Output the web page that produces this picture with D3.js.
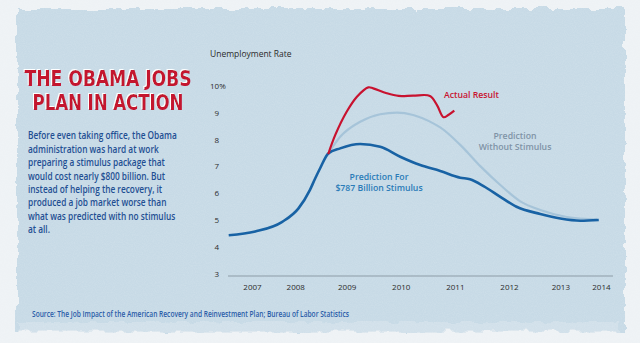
<!DOCTYPE html>
<html>
<head>
<meta charset="utf-8">
<script src="https://cdn.jsdelivr.net/npm/d3@7"></script>
<style>
  html, body { margin: 0; padding: 0; background: #f1f4f6; }
  svg { display: block; }
</style>
</head>
<body>
<div id="chart"></div>
<script>
(function(){

  const width = 640, height = 343

  // unemployment rate, x in decimal years
  const stimulusYears = [2007.32, 2007.81, 2008.31, 2008.61, 2008.82, 2008.92, 2009.01, 2009.16,
                         2009.38, 2009.75, 2010.12, 2010.49, 2010.86, 2011.23, 2011.60, 2011.78,
                         2012.03, 2012.34, 2012.64, 2013.08, 2013.45, 2013.82, 2014.16]
  const stimulusRate  = [4.44, 4.58, 4.94, 5.44, 6.12, 6.56, 6.93, 7.48,
                         7.67, 7.83, 7.73, 7.36, 7.05, 6.83, 6.58, 6.52,
                         6.27, 5.87, 5.50, 5.23, 5.06, 4.98, 5.01]

  const noStimulusYears = [2009.16, 2009.38, 2009.75, 2010.12, 2010.43, 2010.73, 2011.10,
                           2011.23, 2011.60, 2011.97, 2012.34, 2012.71, 2013.08, 2013.57, 2014.13]
  const noStimulusRate  = [7.48, 8.10, 8.66, 8.94, 9.00, 8.91, 8.60,
                           8.45, 7.80, 7.01, 6.31, 5.70, 5.38, 5.12, 5.03]

  const actualYears = [2009.16, 2009.29, 2009.50, 2009.69, 2009.90, 2009.99, 2010.24,
                       2010.46, 2010.73, 2011.04, 2011.17, 2011.29, 2011.38, 2011.49]
  const actualRate  = [7.46, 8.17, 9.03, 9.59, 9.94, 9.90, 9.72,
                       9.62, 9.63, 9.62, 9.28, 8.83, 8.91, 9.07]

  const yearLabels    = ['2007','2008','2009','2010','2011','2012','2013','2014']
  const yearPositions = [2007.75, 2008.55, 2009.5, 2010.5, 2011.5, 2012.5, 2013.45, 2014.2]
  const rateTicks     = [3, 4, 5, 6, 7, 8, 9, 10]

  const titleLines = ['THE OBAMA JOBS', 'PLAN IN ACTION']
  const bodyLines = [
    'Before even taking office, the Obama',
    'administration was hard at work',
    'preparing a stimulus package that',
    'would cost nearly $800 billion. But',
    'instead of helping the recovery, it',
    'produced a job market worse than',
    'what was predicted with no stimulus',
    'at all.'
  ]
  const source = 'Source: The Job Impact of the American Recovery and Reinvestment Plan; Bureau of Labor Statistics'

  const svg = d3.select('#chart').append('svg')
      .attr('width', width).attr('height', height)

  const defs = svg.append('defs')

  // ragged paper edge
  const rough = defs.append('filter').attr('id', 'rough')
      .attr('x', '-5%').attr('y', '-5%').attr('width', '110%').attr('height', '110%')
  rough.append('feTurbulence').attr('type', 'fractalNoise')
      .attr('baseFrequency', 0.08).attr('numOctaves', 3).attr('seed', 3).attr('result', 't')
  rough.append('feDisplacementMap').attr('in', 'SourceGraphic').attr('in2', 't')
      .attr('scale', 9).attr('xChannelSelector', 'R').attr('yChannelSelector', 'G')

  // canvas grain
  const grain = defs.append('filter').attr('id', 'grain')
      .attr('x', 0).attr('y', 0).attr('width', '100%').attr('height', '100%')
  grain.append('feTurbulence').attr('type', 'fractalNoise')
      .attr('baseFrequency', 0.9).attr('numOctaves', 2).attr('seed', 7).attr('result', 'n')
  grain.append('feColorMatrix').attr('in', 'n').attr('type', 'matrix')
      .attr('values', '0 0 0 0 1  0 0 0 0 1  0 0 0 0 1  0.3 0 0 0 -0.1')

  // white edge on the title
  defs.append('filter').attr('id', 'titleEdge')
    .append('feDropShadow').attr('dx', -1).attr('dy', -1).attr('stdDeviation', 0.3)
      .attr('flood-color', '#ffffff').attr('flood-opacity', 1)

  svg.append('rect').attr('width', width).attr('height', height).attr('fill', '#eef2f5')

  svg.append('rect')
      .attr('x', 17).attr('y', 9).attr('width', 608).attr('height', 322)
      .attr('fill', '#c7dae6').attr('filter', 'url(#rough)')

  svg.append('rect')
      .attr('x', 20).attr('y', 322).attr('width', 600).attr('height', 10)
      .attr('fill', '#d6e3ec').attr('opacity', 0.7).attr('filter', 'url(#rough)')

  svg.append('rect').attr('width', width).attr('height', height)
      .attr('filter', 'url(#grain)').attr('opacity', 0.7)

  // squeeze a text block horizontally to a target width (no narrow font installed)
  function squeeze(g, left, target) {
    let w = 0
    g.selectAll('text').each(function() { w = Math.max(w, this.getComputedTextLength()) })
    const k = Math.min(1, target / w)
    g.attr('transform', `translate(${left},0) scale(${k},1)`)
  }

  // scales
  const x = d3.scaleLinear().domain([2009, 2014]).range([319.6, 590.1])
  const y = d3.scaleLinear().domain([3, 10]).range([274, 85.7])

  // title
  const titleLen = [167, 151]
  const title = svg.append('g').attr('font-family', '"DejaVu Sans", sans-serif')
      .attr('font-weight', 'bold').attr('font-size', '21.5px').attr('text-anchor', 'middle')
      .attr('fill', '#c4122f').attr('filter', 'url(#titleEdge)')
  title.selectAll('g').data(titleLines).enter().append('g')
      .each(function(d, i) {
        const g = d3.select(this)
        const t = g.append('text').attr('x', 0).attr('y', 86.5 + i*23.5).text(d)
        const k = titleLen[i] / t.node().getComputedTextLength()
        g.attr('transform', `translate(108,0) scale(${k},1)`)
      })

  // body copy
  const body = svg.append('g')
      .attr('font-family', '"Open Sans", sans-serif').attr('font-weight', 600)
      .attr('font-size', '11px').attr('fill', '#1f4f93')
  body.selectAll('text').data(bodyLines).enter().append('text')
      .attr('x', 0).attr('y', function(d, i) { return 139.5 + i*13.37 })
      .text(function(d) { return d })
  squeeze(body, 28, 149)

  // axes
  svg.append('text').attr('x', 210).attr('y', 57)
      .attr('font-family', '"Open Sans", sans-serif').attr('font-size', '8.5px')
      .attr('fill', '#2b2b2b').text('Unemployment Rate')

  const yAxis = svg.append('g').attr('transform', 'translate(220,0)')
      .call(d3.axisLeft(y).tickValues(rateTicks).tickSize(0).tickPadding(0)
        .tickFormat(function(d) { return d === 10 ? '10%' : d }))
  yAxis.select('.domain').remove()
  yAxis.selectAll('text')
      .attr('font-family', '"Open Sans", sans-serif').attr('font-size', '8px')
      .attr('fill', '#2b2b2b')
  yAxis.selectAll('.tick text')
      .attr('text-anchor', function(d) { return d === 10 ? 'start' : 'end' })
      .attr('x', function(d) { return d === 10 ? -10 : -1 })

  const xAxis = svg.append('g').attr('transform', 'translate(0,276)')
      .call(d3.axisBottom(x).tickValues(yearPositions).tickSize(0).tickPadding(8)
        .tickFormat(function(d, i) { return yearLabels[i] }))
  xAxis.select('.domain').remove()
  xAxis.selectAll('text')
      .attr('font-family', '"Open Sans", sans-serif').attr('font-size', '8px')
      .attr('fill', '#2b2b2b')

  svg.append('line')
      .attr('x1', 228).attr('x2', 613).attr('y1', y(3) + 2).attr('y2', y(3) + 2)
      .attr('stroke', '#8d9ca7').attr('stroke-width', 1)

  // lines
  const lineSmooth = d3.line()
      .x(function(d) { return x(d[0]) }).y(function(d) { return y(d[1]) })
      .curve(d3.curveMonotoneX)
  const lineSharp = d3.line()
      .x(function(d) { return x(d[0]) }).y(function(d) { return y(d[1]) })
      .curve(d3.curveCatmullRom.alpha(0.5))

  svg.append('path').datum(d3.zip(noStimulusYears, noStimulusRate))
      .attr('d', lineSmooth).attr('fill', 'none')
      .attr('stroke', '#a6c4d9').attr('stroke-width', 2.2)

  svg.append('path').datum(d3.zip(stimulusYears, stimulusRate))
      .attr('d', lineSmooth).attr('fill', 'none')
      .attr('stroke', '#1862a4').attr('stroke-width', 2.6)

  svg.append('path').datum(d3.zip(actualYears, actualRate))
      .attr('d', lineSharp).attr('fill', 'none')
      .attr('stroke', '#c8122f').attr('stroke-width', 2.2)
      .attr('stroke-linejoin', 'round')

  // annotations
  const notes = svg.append('g').attr('font-family', '"Open Sans", sans-serif')
      .attr('font-weight', 600).attr('font-size', '8.7px')

  notes.append('text').attr('x', 444).attr('y', 98)
      .attr('fill', '#c8122f').text('Actual Result')

  notes.append('g').attr('text-anchor', 'middle').attr('fill', '#7f93a6')
      .selectAll('text').data(['Prediction', 'Without Stimulus']).enter().append('text')
      .attr('x', 515).attr('y', function(d, i) { return 139 + i*11.3 })
      .text(function(d) { return d })

  notes.append('g').attr('text-anchor', 'middle').attr('fill', '#2a7bb8')
      .selectAll('text').data(['Prediction For', '$787 Billion Stimulus']).enter().append('text')
      .attr('x', 379).attr('y', function(d, i) { return 179.5 + i*11.3 })
      .text(function(d) { return d })

  // source line
  const src = svg.append('g')
      .attr('font-family', '"Open Sans", sans-serif').attr('font-weight', 600)
      .attr('font-size', '8.5px').attr('fill', '#2a5ca8')
  src.append('text').attr('x', 0).attr('y', 317).text(source)
  squeeze(src, 32, 317)

})()
</script>
</body>
</html>
